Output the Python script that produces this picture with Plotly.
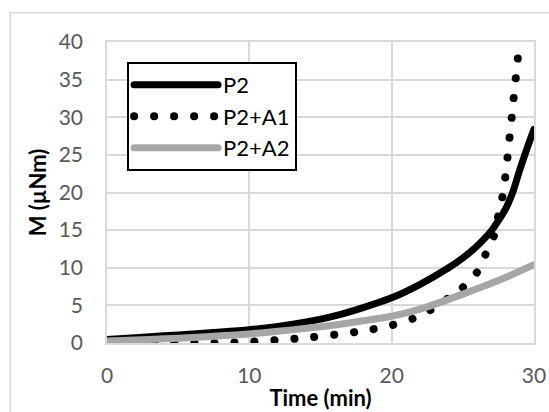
import plotly.graph_objects as go

# Data
t_p2 = [0, 2, 4, 6, 8, 10, 12, 14, 16, 18, 20, 22, 24, 25, 26, 27, 28, 28.5, 29, 29.5, 30]
m_p2 = [0.45, 0.7, 0.95, 1.2, 1.45, 1.75, 2.2, 2.8, 3.6, 4.7, 6.0, 7.8, 10.0, 11.3, 12.9, 14.9, 17.8, 20.0, 23.0, 25.8, 28.4]

t_a1 = [0, 2, 4, 6, 8, 10, 12, 14, 16, 18, 20, 22, 23, 24, 25, 26, 26.6, 27.2, 27.5, 27.8, 28.0, 28.15, 28.3, 28.45, 28.6, 28.75, 28.9]
m_a1 = [0.2, 0.1, 0.05, 0.0, 0.0, 0.15, 0.4, 0.7, 1.1, 1.6, 2.35, 3.6, 4.7, 6.0, 7.4, 9.4, 11.8, 14.3, 17.0, 19.6, 22.3, 24.9, 27.6, 30.3, 33.1, 35.8, 38.5]

t_a2 = [0, 2, 4, 6, 8, 10, 12, 14, 16, 18, 20, 22, 24, 26, 28, 30]
m_a2 = [0.25, 0.4, 0.55, 0.72, 0.95, 1.2, 1.55, 1.95, 2.4, 2.95, 3.55, 4.5, 5.8, 7.2, 8.7, 10.4]

names = ["P2", "P2+A1", "P2+A2"]
x_ticks = [0, 10, 20, 30]
y_ticks = [0, 5, 10, 15, 20, 25, 30, 35, 40]

FONT = "Lato"
GRID = "#d9d9d9"

fig = go.Figure()
fig.add_trace(go.Scatter(x=t_p2, y=m_p2, name=names[0], mode="lines", legendgroup="a",
                         line=dict(color="black", width=7, shape="spline", smoothing=0.6)))
fig.add_trace(go.Scatter(x=t_a1, y=m_a1, name=names[1], mode="lines", legendgroup="b",
                         line=dict(color="black", width=8, dash="0.1px,19.9px", shape="spline", smoothing=0.6)))
fig.add_trace(go.Scatter(x=t_a2, y=m_a2, name=names[2], mode="lines", legendgroup="c",
                         line=dict(color="#a6a6a6", width=7, shape="spline", smoothing=0.6)))

fig.update_layout(
    width=549, height=412,
    margin=dict(l=107, r=15, t=42, b=69, autoexpand=False),
    paper_bgcolor="white", plot_bgcolor="white",
    font=dict(family=FONT, size=21, color="#595959"),
    showlegend=True,
    legend=dict(x=0.047, y=0.934, xanchor="left", yanchor="top",
                bgcolor="white", bordercolor="black", borderwidth=2,
                font=dict(family=FONT, size=22, color="black"),
                itemwidth=84, tracegroupgap=0, traceorder="grouped"),
    xaxis=dict(range=[0, 30], tickvals=x_ticks, showgrid=True, gridcolor=GRID, gridwidth=1.5,
               zeroline=False, showline=True, mirror=True, linecolor=GRID, linewidth=1.5,
               ticks="", ticklabelstandoff=13, automargin=False,
               tickfont=dict(family=FONT, size=21, color="#595959"),
               title=dict(text="<b>Time (min)</b>", standoff=5,
                          font=dict(family=FONT, size=22, color="black"))),
    yaxis=dict(range=[0, 40], tickvals=y_ticks, showgrid=True, gridcolor=GRID, gridwidth=1.5,
               zeroline=False, showline=True, mirror=True, linecolor=GRID, linewidth=1.5,
               ticks="", ticklabelstandoff=18, automargin=False,
               tickfont=dict(family=FONT, size=21, color="#595959"),
               title=dict(text="<b>M (µNm)</b>", standoff=6,
                          font=dict(family=FONT, size=22, color="black"))),
    shapes=[dict(type="rect", xref="paper", yref="paper",
                 x0=-0.227, x1=1.2, y0=-0.5, y1=1.097,
                 line=dict(color=GRID, width=1.5), layer="below")],
)

post = """
var gd = document.getElementsByClassName('plotly-graph-div')[0];
function rc(){
  gd.querySelectorAll('.scatterlayer path.js-line, .legend path.js-line').forEach(function(p){
    p.style.strokeLinecap = 'round';
  });
  var tr = gd.querySelectorAll('.scatterlayer .trace');
  if (tr.length > 1) {
    var p = tr[1].querySelector('path.js-line');
    if (p && p.getTotalLength) {
      var L = p.getTotalLength();
      p.style.strokeDashoffset = (L % 20) + 'px';
    }
  }
}
rc();
gd.on('plotly_afterplot', rc);
"""

fig.write_html("out.html", post_script=post)
